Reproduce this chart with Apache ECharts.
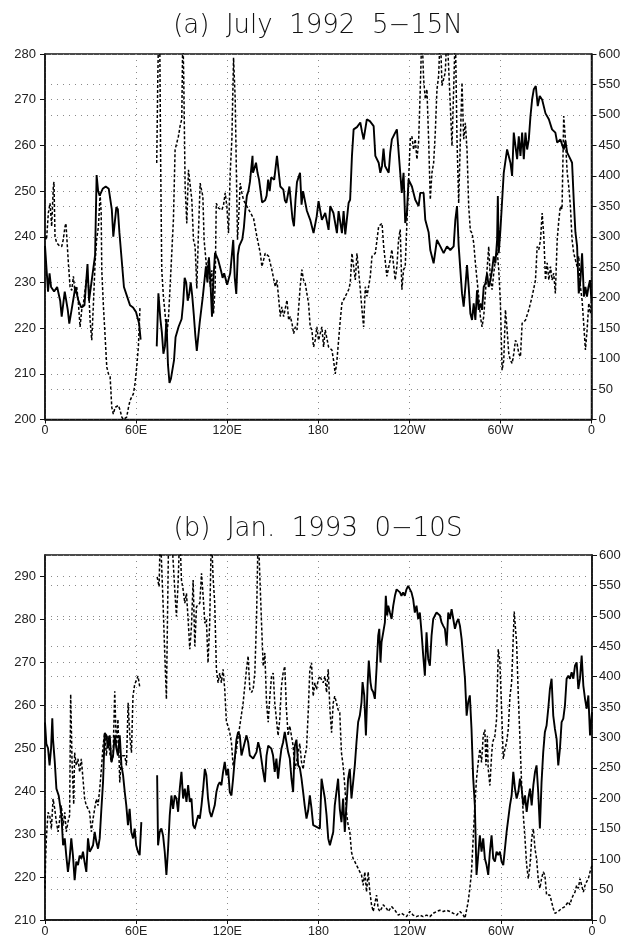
<!DOCTYPE html>
<html><head><meta charset="utf-8">
<script src="https://cdn.jsdelivr.net/npm/echarts@6/dist/echarts.min.js"></script>
<style>html,body{margin:0;padding:0;background:#fff}#c{width:625px;height:938px}</style>
</head><body><div id="c"></div>
<script>
// Longitude ticks (degrees east from 0 to 360)
const xTicks = [0, 60, 120, 180, 240, 300, 360];
const xTickLabels = ['0', '60E', '120E', '180', '120W', '60W', '0'];
const titleA = '(a)  July  1992  5\u221215N';
const titleB = '(b)  Jan.  1993  0\u221210S';

// Panel (a): solid line, left axis (200-280) [lon, value]
const solidA = [[0,238],[1,233],[2,228],[3,232],[4,229],[6,228],[8,229],[10,226],[11,222.5],[13,228],[15,224],[16,221],[18,225],[20,229],[22,226],[24,224.5],[26,225],[28,234],[29,226],[31,231],[33,236],[34,253.5],[35,250],[36,249],[38,250.5],[40,251],[42,250.5],[44,246],[45,240],[47,246.5],[48,246],[49,241],[50,237],[52,229],[54,227],[56,225],[58,224.5],[60,223.5],[62,221],[63,217.5],[68,null],[73.6,216],[74.7,227.6],[76,222],[77,219],[78,214.4],[79,216],[80,222],[81,212],[82,208],[83,209],[85,213],[86,218],[88,220.3],[90,222],[91,225.5],[92,231],[93,230],[94,226],[95,227.5],[96,230],[97,227],[98,223],[99,218.5],[100,215],[102,221.5],[104,227],[106,233.5],[107,230],[108,235.5],[109,230],[110,222.5],[111,231],[112,236.5],[114,235],[116,232.5],[117,231],[118,232],[120,229.5],[122,232],[124,239.3],[125,231],[126,227.5],[127,236],[128,238],[130,239.5],[131,242],[132,246],[133,249],[134,250],[135,252],[136.7,257.7],[137,254],[138,255],[139,256.2],[140,254],[141,252.5],[143,247.5],[145,248],[146,249],[147,252.5],[148,250],[149,253],[151,252.5],[152.8,257.7],[154,254],[155,251],[157,250.3],[158,248],[159,247.4],[161,251],[163,244],[164,242.3],[165,248],[166,252],[167,253],[168,254],[169,247],[170,250],[172.5,245.7],[174.7,243.7],[176.9,240.8],[179,244.5],[180.2,247.8],[182.4,243.7],[184.6,245.2],[186.8,241.5],[187.9,246.7],[190,245.2],[192.3,240.8],[193.4,245.6],[195.6,240.8],[196.7,245.6],[197.8,240.5],[200,247.4],[201,248.1],[202.2,257.7],[203.3,263.5],[205.5,264],[207.7,265],[208.8,263],[209.9,261.3],[212,265.7],[214,265.3],[216.5,264.2],[217.6,257.7],[219.8,256.2],[220.9,254],[222,255.5],[223,259.3],[224,255.5],[226.4,254],[227.4,258.4],[228.5,261.3],[230.7,262.8],[231.8,263.5],[234,254],[235,249.6],[236.2,254],[237.3,243],[238.4,245.2],[239.5,252.5],[241.7,251],[243.9,248.1],[246.1,246.7],[247.2,249.6],[249.4,249.6],[250.5,243.7],[252.7,241],[253.8,237.1],[256,234.2],[258.2,239.3],[260.4,237.9],[262.6,236.4],[264.8,237.9],[267,237.1],[269.2,237.9],[270.3,243.7],[271.4,246.7],[272.5,238],[274.7,227.6],[275.8,224.7],[276.9,229],[278,233.8],[279.1,229],[280.2,223.2],[281.3,221.8],[282.4,225.4],[283.5,221.8],[284.6,228.3],[285.7,224],[286.8,225.4],[287.9,224],[289,229],[290.1,229.8],[291.2,232],[292.3,229],[293.4,230.5],[294.5,232.7],[295.6,235.7],[296.7,234.2],[297.8,239.3],[298.3,248.9],[298.9,236.4],[300,241.5],[302.2,254],[304.4,259.1],[306.6,256.2],[307.7,253.3],[308.8,262.8],[311,257],[312.1,262],[313.2,257.7],[314.3,262.8],[315.4,257],[316.5,262.8],[317.6,259.1],[318.7,261.3],[319.8,266.4],[320.9,270.1],[322,272.3],[323.3,273],[324.6,268.6],[325.9,270.8],[327.5,270],[329.7,267],[331.9,265.7],[334,263.5],[336.2,262.8],[337.4,260.6],[339.5,261.3],[341.7,259.1],[342.8,261],[344,258.4],[346.1,257],[347.2,256.2],[348.3,248],[349.4,241],[350.5,238],[351.6,227.6],[352.7,230.5],[353.8,236.4],[355,226.9],[356,229],[357,226.9],[358,229],[359,230.5],[360,226]];

// Panel (a): dashed line, right axis (0-600) [lon, value]
const dashA = [[0,300],[1,295],[2.2,339],[3.3,355],[4.4,317],[5.5,383],[5.9,390],[6.6,300],[7.7,290],[9.5,285],[11,284],[12,295],[13.2,317],[13.8,322],[15.4,257],[16.5,218],[17.6,212],[18.7,235],[19.8,207],[20.9,218],[22,191],[23.1,152],[24.2,180],[25.3,190],[26.4,190],[27.5,235],[28.6,224],[29.7,163],[30.8,130],[31.9,190],[33,257],[34,295],[35.2,317],[36.3,370],[37,340],[37.4,245],[38.5,185],[39.6,136],[40.7,86],[41.8,75],[42.9,70],[44,20],[45,9],[46.2,20],[47.3,20],[48.4,23],[49.5,15],[50.6,4],[51.7,0],[52.8,1],[53.8,4],[55,20],[56,31],[57.1,37],[58.2,42],[59.3,59],[60.4,86],[61.5,119],[62.6,185],[68,null],[73.6,421],[74.3,560],[74.9,650],[75.6,620],[76.2,420],[76.9,246],[78,202],[79.1,174],[80.2,138],[81.3,165],[82.4,218],[83.5,273],[84.6,328],[85.7,443],[86.8,440],[87.9,465],[89,482],[90.1,493],[90.8,640],[91.4,560],[92.3,383],[93.4,322],[94.5,410],[95.6,413],[96.7,361],[97.8,295],[98.9,284],[100,215],[101,300],[102.2,388],[102.9,391],[104,366],[104.8,295],[105.5,295],[106.6,245],[107.7,262],[108.8,218],[109.9,245],[111,174],[112.1,218],[112.8,355],[114.3,347],[115.4,350],[116.5,344],[117.6,352],[118.7,372],[119.8,350],[120.9,306],[122,405],[123.1,460],[124.2,594],[125.3,526],[125.9,432],[126.8,295],[127.5,328],[128.6,388],[129.7,372],[130.8,360],[133,350],[134.1,345],[137.4,330],[139.6,300],[141.8,273],[142.9,251],[145.1,273],[147.3,268],[149.5,245],[151.7,218],[152.8,229],[155,169],[156,185],[157.2,169],[159.4,196],[160.5,163],[161.6,169],[162.7,158],[163.8,141],[164.9,152],[166,147],[167,180],[168.1,218],[169.2,246],[170.3,229],[171.4,224],[172.5,207],[173.6,191],[174.7,152],[175.8,147],[176.9,119],[178,130],[179.1,152],[180.2,130],[182.4,152],[183.5,119],[184.6,147],[186.8,119],[189,114],[190.1,97],[191.2,75],[192.3,97],[194.5,163],[195.6,191],[197.8,202],[200,213],[201.1,224],[202.2,273],[204.4,229],[205.5,273],[207.7,213],[208.8,180],[209.9,152],[211,218],[212.1,202],[214.3,235],[215.4,268],[217.6,273],[219.8,317],[222,322],[223.1,284],[225.2,235],[227.4,262],[228.5,279],[230.7,229],[231.8,251],[232.9,295],[234,312],[235.1,213],[236.2,246],[237.3,251],[238.4,323],[240.6,460],[241.7,465],[242.8,443],[243.9,460],[245,427],[246.1,455],[247.2,542],[248.3,640],[249.4,559],[250.5,526],[251.6,542],[252.7,460],[253.8,361],[254.9,405],[256,421],[257.1,471],[258.2,542],[259.3,564],[260.4,640],[261.5,548],[262.6,559],[263.7,570],[264.8,640],[265.9,640],[267,515],[268.1,449],[269.2,542],[270.3,640],[271.4,460],[272.5,355],[273.6,460],[274.7,553],[275.8,460],[276.9,487],[278,443],[279.1,350],[280.2,310],[281.3,306],[282.4,290],[283.5,257],[284.6,229],[285.7,202],[286.8,169],[287.9,152],[289,169],[290.1,207],[291.2,246],[292.3,284],[293.4,229],[294.5,213],[295.6,240],[296.7,262],[297.8,279],[298.9,246],[300,191],[301.1,81],[302.2,97],[303.3,180],[304.4,147],[305.5,108],[306.6,97],[307.7,92],[308.8,108],[309.9,130],[311,125],[312.1,108],[313.2,103],[314.3,158],[316.5,163],[318.7,180],[320.9,202],[323.1,229],[324.2,284],[325.3,279],[326.4,295],[327.5,339],[328.6,300],[329.7,229],[330.8,257],[331.9,229],[333,251],[334,229],[335.1,240],[336.2,207],[337.4,295],[338.5,328],[339.5,350],[340.6,345],[341.7,498],[342.8,460],[344,405],[345,383],[346.1,350],[347.2,295],[348.3,273],[350.5,251],[351.6,268],[352.7,218],[353.8,196],[355,152],[356,114],[357.1,147],[358.2,191],[359.3,174],[360,200]];

// Panel (b): solid line, left axis (210-295) [lon, value]
const solidB = [[0,256],[0.9,251],[2,250],[3,246],[4,250],[4.8,257],[5.3,252],[6.4,247],[7.5,240.6],[9,239],[10.8,234.4],[11.9,227.4],[13,229],[14,225],[15.1,221.2],[16.2,224.3],[17.3,229],[18.4,225],[19.5,219.3],[20.6,223.6],[21.7,222.8],[22.8,225],[24,224.3],[25,225.9],[26,223.6],[27.2,221.2],[28.3,229],[29.4,225.9],[30.5,226.6],[31.6,227.4],[32.7,230.5],[33.8,228.2],[34.9,226.6],[36,229],[37,235.2],[38.2,242.1],[39.3,253.5],[40.4,253],[41.5,250],[42.6,253],[43.7,246.8],[44.8,248.3],[45.9,253],[47,250],[48,248.3],[49.2,253],[50.3,246],[51.4,243.7],[52.5,239.8],[53.5,236.7],[54.6,232.1],[55.7,235.9],[56.8,230.5],[58,229],[59,231.3],[60,227.4],[61.2,225.9],[62.3,225.1],[63.4,232.8],[68,null],[73.8,243.7],[74.4,227.4],[75.5,230.5],[76.6,231.3],[77.7,229.7],[78.8,225.9],[79.9,220.5],[81,226.6],[82.1,234.4],[83.2,239],[84.3,235.9],[85.4,239],[86.5,238.3],[87.6,235.2],[88.7,240.6],[89.8,244.5],[90.9,238.3],[92,240.6],[93.1,237.5],[94.2,241.4],[95.3,237.5],[96.4,238.3],[97.5,232.1],[98.6,231.3],[99.7,232.8],[100.8,234.4],[101.9,233.6],[103,236.7],[104.1,240.6],[105.2,245.2],[106.2,243.7],[107.3,238.3],[108.4,235.2],[109.5,234],[110.6,234.4],[111.7,236.7],[112.8,239.8],[113.9,241.4],[115,242.1],[116.1,241.4],[117.2,244.5],[118.3,246.8],[119.4,243.7],[120.5,245.2],[121.6,239.8],[122.7,239],[123.8,242.9],[124.9,247.6],[126,252],[127.1,253.8],[128.2,253],[129.3,248.3],[130.4,249.9],[132.6,253],[133.7,251.4],[134.8,248.3],[137,247.6],[138.1,247.6],[139.2,249.1],[140.3,251.4],[141.4,249.9],[143.6,244.5],[144.7,242.1],[145.8,248.3],[146.9,250.6],[149,249.9],[150.1,248.3],[151.2,244.5],[152.3,247.6],[153.4,242.9],[154.5,246.8],[155.6,249.9],[156.7,251.4],[157.8,253.8],[158.9,251.4],[160,249.1],[161.1,247.6],[162.2,242.9],[163.3,239.8],[164.4,250.6],[165.5,252],[166.6,246],[167.7,245.5],[168.8,243],[169.9,239.8],[170.9,236.7],[172.1,233.6],[173.2,235.5],[174.3,239],[175.4,236],[176.5,232.1],[177.6,232.1],[178.7,231.7],[179.8,232.1],[180.9,231.3],[182,242.9],[183.1,240.6],[184.2,238.3],[185.3,234.4],[186.4,229],[187.5,227.4],[188.6,227.4],[189.7,230.5],[190.7,236.7],[191.8,239.8],[192.9,242.9],[194,235.9],[195.1,232.8],[196.2,238.3],[197.3,230.5],[198.4,236.7],[199.5,242.9],[200.6,245.2],[201.7,238.3],[202.8,242.1],[203.9,246],[205,251.4],[206.1,256.1],[207.2,257.6],[208.3,260.7],[209,265.4],[210.1,262.3],[211.2,253],[212.3,264.6],[213.1,270.4],[214.2,265.4],[214.9,263.8],[216,263.1],[217.1,261.5],[218.2,268.5],[219.3,276.2],[220,277.8],[220.8,270],[221.5,274.7],[222.6,277],[223.7,279.3],[224.3,285.5],[225.2,280.9],[225.9,283.2],[227,281.6],[228.1,280.1],[229.2,283.2],[230.3,285.5],[231.4,287],[232.5,287],[233.6,286.3],[234.6,285.5],[235.7,286.3],[236.8,285.5],[237.9,287],[239,287.8],[240.1,287.8],[241.2,286.3],[242.3,284.7],[243.4,281.6],[244.5,283.2],[245.6,280.1],[246.7,281.6],[247.8,277],[248.9,271.6],[250,266.9],[251.1,277],[252.2,270.8],[253.3,269.2],[254.4,276.2],[255.5,280.1],[256.6,280.9],[257.7,281.6],[258.8,282],[259.9,280.9],[261,279.3],[262.1,278.5],[263.2,277.8],[264.3,273.9],[265.4,281.6],[266.5,280.1],[267.6,282.4],[268.7,280.1],[269.8,277.8],[270.9,279.3],[272,280.1],[273.1,278.5],[274.2,275.4],[275.3,270.8],[276.4,266.2],[277.5,257.6],[278.5,260.7],[279.6,262.3],[280.7,254.5],[281.8,243.1],[282.9,236.7],[284,220.5],[285.1,225.1],[286.2,229.7],[287.3,225.9],[288.4,229],[289.5,224.3],[290.6,222.8],[291.7,220.5],[292.8,225.9],[293.9,229.7],[295,224.3],[296.1,223.6],[297.2,225.9],[298.3,225.1],[299.4,225.9],[300.5,223.6],[301.6,222.8],[302.7,226.6],[303.8,230.5],[304.9,233.6],[306,236.7],[307.1,239],[308.2,244.5],[309.3,240.6],[310.4,238.3],[311.5,239.8],[312.6,242.9],[313.7,240.6],[314.8,236.7],[315.9,239],[317,235.2],[318.1,238.3],[319.2,240.6],[320.3,236.7],[321.4,241.4],[322.5,244.5],[323.5,246],[324.6,239.8],[325.7,231.3],[326.8,242.1],[327.9,249.1],[329,253.8],[330.1,255.3],[331.2,259.2],[332.3,263.8],[333.4,266.2],[334.5,257.6],[335.6,254.5],[336.7,252.2],[337.8,246],[338.9,249.9],[340,256.1],[341.1,256.9],[342.2,260],[343.3,266.2],[344.4,266.9],[345.5,266.2],[346.6,267.7],[347.7,266.2],[348.8,269.2],[349.9,270],[351,263.8],[352.1,266.2],[353.2,271.6],[354.3,264.6],[355.4,261.5],[356.5,259.2],[357.6,262.3],[358.7,253],[360,258.4]];

// Panel (b): dashed line, right axis (0-600) [lon, value]
const dashB = [[0,52],[0.4,100],[0.9,134],[2,177],[3.1,172],[4.2,150],[5.3,199],[6.4,183],[7.5,161],[8.6,145],[9.7,166],[10.8,188],[11.9,155],[13,177],[14,145],[15.1,161],[16.2,172],[16.9,371],[17.8,260],[18.9,190],[19.5,275],[20.6,254],[21.7,265],[22.8,243],[23.9,265],[24.6,264],[26.1,199],[27.2,188],[28.3,183],[29.4,177],[30.5,145],[31.6,166],[32.7,183],[33.8,199],[34.9,188],[36,215],[37.1,248],[38.2,286],[39.3,308],[40.4,270],[41.5,303],[42.6,275],[43.7,259],[44.8,270],[45.9,376],[47,281],[48,330],[49.2,226],[50.3,270],[51.4,270],[52.5,270],[53.6,254],[54.7,357],[55.8,303],[56.9,275],[57.9,368],[59,387],[60.1,384],[61.2,401],[62.3,384],[68,null],[73.8,564],[75.1,548],[75.9,640],[77,640],[77.7,521],[78.8,439],[79.9,363],[80.6,494],[81.4,640],[83.2,640],[85.4,543],[86.5,499],[87.6,554],[88.7,640],[89.8,559],[90.9,543],[92,521],[93.1,537],[94.2,494],[95.3,445],[96.4,483],[97.5,559],[98.6,450],[99.7,515],[100.8,515],[101.9,521],[103,570],[104.1,532],[105.2,488],[106.2,494],[107.3,423],[108.4,488],[109.5,640],[110.6,564],[111.7,521],[112.8,412],[113.9,390],[115,406],[116.1,390],[117.2,412],[118.3,379],[119.4,325],[120.5,319],[121.6,308],[122.7,292],[123.8,254],[124.9,265],[126,281],[128.2,319],[130.4,357],[132.6,412],[133.7,434],[134.8,379],[135.9,374],[137,379],[138.1,406],[139.2,494],[140.3,640],[141.4,640],[142.5,488],[143.6,417],[144.7,439],[145.8,357],[146.9,325],[148,368],[149.1,401],[150.2,406],[151.2,357],[152.3,330],[153.4,303],[154.5,330],[155.6,384],[156.7,406],[157.8,417],[158.9,346],[160,303],[161.1,319],[162.2,303],[163.3,286],[164.4,248],[165.5,259],[166.6,259],[167.7,290],[168.8,260],[169.9,248],[171,270],[172.1,281],[173.2,340],[174.3,412],[175.4,423],[176.5,368],[177.6,390],[178.7,379],[179.8,395],[180.9,401],[182,395],[183.1,390],[184.2,401],[185.3,374],[186.4,412],[187.5,346],[188.6,308],[189.7,357],[190.7,368],[191.8,357],[192.9,346],[194,341],[195.1,275],[196.2,254],[197.3,221],[198.4,177],[199.5,156],[200.6,145],[201.7,112],[202.8,101],[203.9,96],[205,90],[206.1,85],[207.2,79],[208.3,74],[209.4,57],[210.5,79],[211.6,46],[212.7,79],[213.8,46],[214.9,25],[216,14],[217.1,11],[218.2,41],[219.3,19],[220.4,14],[221.5,19],[222.6,25],[223.7,22],[224.8,19],[225.9,14],[227,16],[228.1,22],[229.2,19],[230.3,16],[231.4,14],[232.5,8],[233.6,5.5],[234.6,11],[235.7,8],[237.9,5.5],[240.1,14],[242.3,8],[244.5,5.5],[246.7,8],[248.9,5.5],[251.1,8],[253.3,5.5],[255.5,11],[257.7,14],[259.9,16],[262.1,14],[264.3,16],[266.5,14],[268.7,11],[270.9,8],[273.1,14],[275.3,8],[276.4,3],[277.5,5.5],[278.5,30],[279.6,52],[280.7,79],[281.8,134],[282.9,188],[284,232],[285.1,259],[286.2,281],[287.3,259],[288.4,303],[289.5,313],[290.2,254],[291.1,303],[291.7,248],[292.8,221],[293.9,270],[294.6,292],[296.1,303],[297.2,330],[298.3,445],[299,445],[299.4,423],[300.5,346],[301.6,265],[302.7,281],[303.8,292],[304.9,314],[306,368],[307.1,390],[308.2,466],[308.8,507],[310.4,455],[311.5,368],[312.6,297],[313.7,221],[314.8,172],[315.9,134],[317,90],[318.1,68],[319.2,90],[320.3,134],[321.4,150],[322.5,117],[323.5,101],[324.6,68],[325.7,52],[326.8,68],[327.9,79],[329,74],[330.1,41],[331.2,41],[332.3,41],[333.4,30],[334.5,19],[335.6,11],[336.7,11],[337.8,14],[338.9,14],[340,19],[341.1,19],[342.2,22],[343.3,25],[344.4,30],[345.5,25],[346.6,35],[347.7,41],[348.8,46],[349.9,57],[351,52],[352.1,68],[353.2,57],[354.3,46],[355.4,57],[356.5,63],[357.6,68],[358.7,79],[360,90]];

function toData(arr) { return arr.map(d => [d[0], d[1] === null ? '-' : d[1]]); }

const chart = echarts.init(document.getElementById('c'), null, { renderer: 'canvas' });
const dotted = { color: '#8a8a8a', width: 1, type: [1, 5] };
const frame = { color: '#111', width: 1.5 };
const labelStyle = { fontFamily: 'Liberation Sans', fontSize: 13, color: '#222' };

function makeX(gi) {
  return {
    type: 'value', gridIndex: gi, min: 0, max: 360, interval: 60,
    axisLine: { show: true, lineStyle: frame },
    axisTick: { show: true, length: 4, lineStyle: { color: '#111' } },
    axisLabel: Object.assign({}, labelStyle, { fontSize: 12.5, margin: 5, showMinLabel: true, showMaxLabel: true,
      formatter: v => { const i = xTicks.indexOf(v); return i >= 0 ? xTickLabels[i] : ''; } }),
    splitLine: { show: true, lineStyle: dotted }
  };
}
function makeY(gi, pos, min, max, interval, showMax) {
  return {
    type: 'value', gridIndex: gi, position: pos, min: min, max: max, interval: interval,
    axisLine: { show: true, lineStyle: frame },
    axisTick: { show: true, length: 5, lineStyle: { color: '#111' } },
    axisLabel: Object.assign({}, labelStyle, { margin: pos === 'left' ? 9 : 7, showMaxLabel: showMax }),
    splitLine: { show: true, lineStyle: dotted }
  };
}
function titleStyle() {
  return { fontFamily: 'DejaVu Sans', fontSize: 26, fontWeight: 200, color: '#111' };
}

chart.setOption({
  animation: false,
  backgroundColor: '#fff',
  title: [
    { text: titleA, left: 318, top: 13, textAlign: 'center', padding: 0, textStyle: titleStyle() },
    { text: titleB, left: 318, top: 516, textAlign: 'center', padding: 0, textStyle: titleStyle() }
  ],
  grid: [
    { left: 45, right: 33.5, top: 54, height: 365.5, show: true, borderColor: '#111', borderWidth: 1.5 },
    { left: 45, right: 33, top: 555, height: 366.7, show: true, borderColor: '#111', borderWidth: 1.5 }
  ],
  xAxis: [makeX(0), makeX(1)],
  yAxis: [
    makeY(0, 'left', 200, 280, 10, true),
    makeY(0, 'right', 0, 600, 50, true),
    makeY(1, 'left', 210, 295, 10, false),
    makeY(1, 'right', 0, 600, 50, true)
  ],
  series: [
    { type: 'line', xAxisIndex: 0, yAxisIndex: 1, data: toData(dashA), symbol: 'none', connectNulls: false,
      lineStyle: { color: '#000', width: 1.5, type: [3, 2] }, z: 2 },
    { type: 'line', xAxisIndex: 0, yAxisIndex: 0, data: toData(solidA), symbol: 'none', connectNulls: false,
      lineStyle: { color: '#000', width: 1.9 }, z: 3 },
    { type: 'line', xAxisIndex: 1, yAxisIndex: 3, data: toData(dashB), symbol: 'none', connectNulls: false,
      lineStyle: { color: '#000', width: 1.5, type: [3, 2] }, z: 2 },
    { type: 'line', xAxisIndex: 1, yAxisIndex: 2, data: toData(solidB), symbol: 'none', connectNulls: false,
      lineStyle: { color: '#000', width: 1.9 }, z: 3 }
  ]
});
</script>
</body></html>
